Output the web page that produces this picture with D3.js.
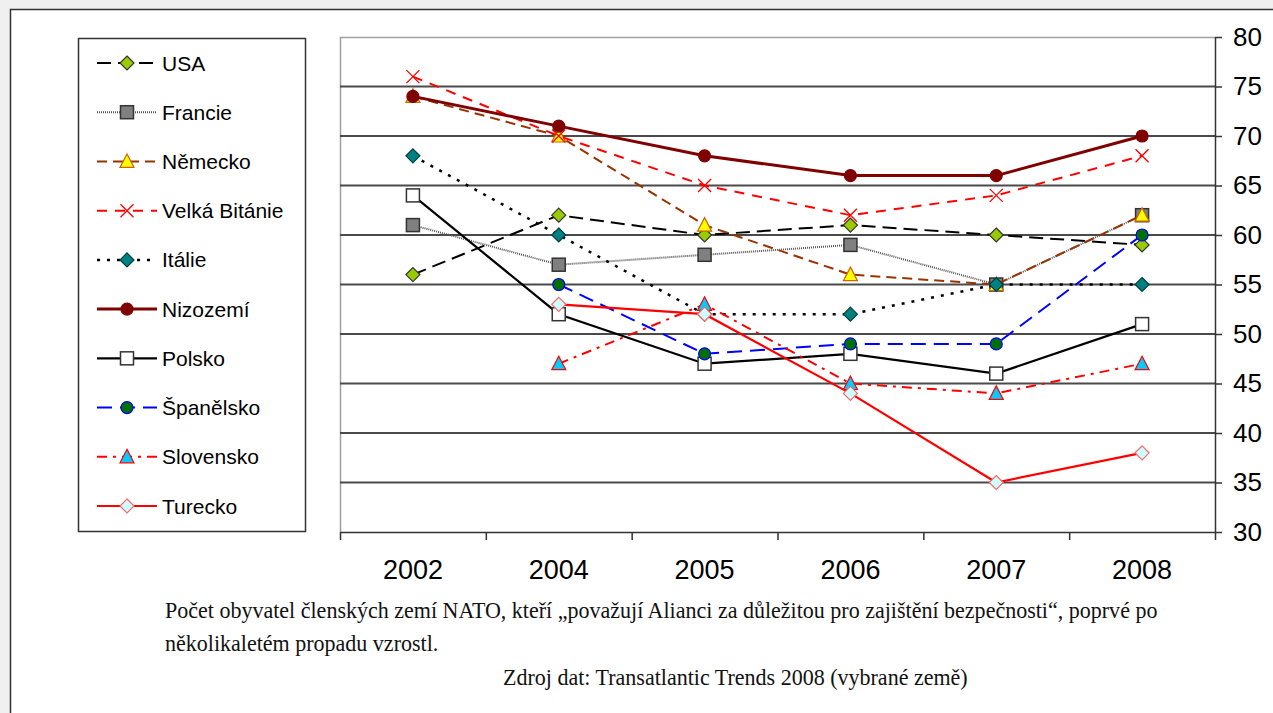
<!DOCTYPE html>
<html><head><meta charset="utf-8">
<script src="https://cdn.jsdelivr.net/npm/d3@7"></script>
<style>
html,body{margin:0;padding:0;background:#f0f0f0;}
svg{display:block;}
</style></head>
<body>
<svg id="chart" width="1273" height="713"></svg>
<script>
// ---- data ----
const years = ["2002","2004","2005","2006","2007","2008"];
const yTicks = [30,35,40,45,50,55,60,65,70,75,80];
const seriesNames = ["USA","Francie","Německo","Velká Bitánie","Itálie","Nizozemí","Polsko","Španělsko","Slovensko","Turecko"];
const usa        = [56,62,60,61,60,59];
const francie    = [61,57,58,59,55,62];
const nemecko    = [74,70,61,56,55,62];
const velkaBr    = [76,70,65,62,64,68];
const italie     = [68,60,52,52,55,55];
const nizozemi   = [74,71,68,66,66,70];
const polsko     = [64,52,47,48,46,51];
const spanelsko  = [null,55,48,49,49,60];
const slovensko  = [null,47,53,45,44,47];
const turecko    = [null,53,52,44,35,38];
const captionLine1 = "Počet obyvatel členských zemí NATO, kteří „považují Alianci za důležitou pro zajištění bezpečnosti“, poprvé po";
const captionLine2 = "několikaletém propadu vzrostl.";
const sourceLine = "Zdroj dat: Transatlantic Trends 2008 (vybrané země)";

// ---- styles ----
const styles = [
  {line:"#000", w:2, dash:"14 7", marker:"diamond", fill:"#99cc00", stroke:"#333"},
  {line:"#555", w:2, dash:"1 1", marker:"square", fill:"#808080", stroke:"#333"},
  {line:"#993300", w:2, dash:"10 6", marker:"triangle", fill:"#ffff00", stroke:"#cc6600"},
  {line:"#ff0000", w:2, dash:"10 8", marker:"x", fill:"none", stroke:"#ff0000"},
  {line:"#000", w:2.5, dash:"3 7", marker:"diamond", fill:"#008080", stroke:"#004040"},
  {line:"#800000", w:3, dash:null, marker:"circle", fill:"#800000", stroke:"#800000"},
  {line:"#000", w:2.2, dash:null, marker:"square", fill:"#ffffff", stroke:"#333"},
  {line:"#0000ff", w:2, dash:"15 8", marker:"circle", fill:"#007000", stroke:"#0000ff"},
  {line:"#ff0000", w:2, dash:"10 6 3 6", marker:"triangle", fill:"#00ccff", stroke:"#ff0000"},
  {line:"#ff0000", w:2.2, dash:null, marker:"diamond", fill:"#ccffff", stroke:"#ff6666"}
];
const allSeries = [usa,francie,nemecko,velkaBr,italie,nizozemi,polsko,spanelsko,slovensko,turecko];

const svg = d3.select("#chart");
// white page with frame
svg.append("rect").attr("x",10).attr("y",9).attr("width",1263).attr("height",704).attr("fill","#fff");
svg.append("path").attr("d","M10.5,713 V9.5 H1273").attr("fill","none").attr("stroke","#333").attr("stroke-width",1.5);

const L=340, R=1215, T=37, B=532;
const x = d3.scaleBand().domain(years).range([L,R]).padding(0);
const cx = d => x(d)+x.bandwidth()/2;
const y = d3.scaleLinear().domain([30,80]).range([B,T]);

// plot border (top & left light gray)
svg.append("path").attr("d",`M${L+0.5},${B} V${T+0.5} H${R}`).attr("fill","none").attr("stroke","#a0a0a0").attr("stroke-width",1.5);
// gridlines
svg.append("g").selectAll("line").data(yTicks.filter(v=>v>30&&v<80)).join("line")
  .attr("x1",L).attr("x2",R).attr("y1",d=>y(d)).attr("y2",d=>y(d))
  .attr("stroke","#4a4a4a").attr("stroke-width",1.8);

// y axis right
const yAxis = svg.append("g").attr("transform",`translate(${R},0)`)
  .call(d3.axisRight(y).tickValues(yTicks).tickSize(7).tickSizeOuter(0).tickPadding(11));
yAxis.select(".domain").attr("stroke","#333").attr("stroke-width",1.5);
yAxis.selectAll(".tick line").attr("stroke","#333").attr("stroke-width",1.5);
yAxis.selectAll(".tick text").attr("font-family","Liberation Sans, Arial, sans-serif").attr("font-size",26).attr("fill","#000");

// x axis bottom
const xAxis = svg.append("g").attr("transform",`translate(0,${B})`)
  .call(d3.axisBottom(x).tickSize(0).tickSizeOuter(0).tickPadding(28));
xAxis.select(".domain").attr("stroke","#333").attr("stroke-width",1.5);
xAxis.selectAll(".tick text").attr("font-family","Liberation Sans, Arial, sans-serif").attr("font-size",27).attr("fill","#000");
// boundary ticks between categories
const bounds = years.map(d=>x(d)).concat([R]);
xAxis.append("g").selectAll("line").data(bounds).join("line")
  .attr("x1",d=>d+0.5).attr("x2",d=>d+0.5).attr("y1",0).attr("y2",8).attr("stroke","#333").attr("stroke-width",1.5);

// marker drawing
function drawMarker(g, type, st){
  if(type==="diamond"){
    g.append("path").attr("d","M0,-7 L7,0 L0,7 L-7,0 Z").attr("fill",st.fill).attr("stroke",st.stroke).attr("stroke-width",1.2);
  } else if(type==="square"){
    g.append("rect").attr("x",-6.5).attr("y",-6.5).attr("width",13).attr("height",13).attr("fill",st.fill).attr("stroke",st.stroke).attr("stroke-width",1.5);
  } else if(type==="triangle"){
    g.append("path").attr("d","M0,-7.5 L7,6 L-7,6 Z").attr("fill",st.fill).attr("stroke",st.stroke).attr("stroke-width",1.2);
  } else if(type==="circle"){
    g.append("circle").attr("r",6).attr("fill",st.fill).attr("stroke",st.stroke).attr("stroke-width",1.2);
  } else if(type==="x"){
    g.append("path").attr("d","M-6.5,-6.5 L6.5,6.5 M-6.5,6.5 L6.5,-6.5").attr("stroke",st.stroke).attr("stroke-width",1.3).attr("fill","none");
  }
}

// series
const lineGen = d3.line().defined(d=>d.v!=null).x(d=>cx(d.year)).y(d=>y(d.v));
allSeries.forEach((vals,i)=>{
  const st = styles[i];
  const data = years.map((yr,j)=>({year:yr, v:vals[j]}));
  const g = svg.append("g");
  g.append("path").datum(data).attr("d",lineGen).attr("fill","none")
    .attr("stroke",st.line).attr("stroke-width",st.w).attr("stroke-dasharray",st.dash);
  data.filter(d=>d.v!=null).forEach(d=>{
    const m = g.append("g").attr("transform",`translate(${cx(d.year)},${y(d.v)})`);
    drawMarker(m, st.marker, st);
  });
});

// legend
svg.append("rect").attr("x",78.5).attr("y",38.5).attr("width",227).attr("height",493)
  .attr("fill","#fff").attr("stroke","#333").attr("stroke-width",1.5);
const legY = d3.scalePoint().domain(seriesNames).range([63,506]);
seriesNames.forEach((n,i)=>{
  const st = styles[i];
  const yy = legY(n);
  const g = svg.append("g");
  g.append("line").attr("x1",97).attr("x2",157).attr("y1",yy).attr("y2",yy)
    .attr("stroke",st.line).attr("stroke-width",st.w).attr("stroke-dasharray",st.dash);
  drawMarker(g.append("g").attr("transform",`translate(127,${yy})`), st.marker, st);
  g.append("text").attr("x",162).attr("y",yy).attr("dy","0.36em")
    .attr("font-family","Liberation Sans, Arial, sans-serif").attr("font-size",21).attr("fill","#000").text(n);
});

// captions
function fitText(t, w){
  const len = t.node().getComputedTextLength();
  const fs = parseFloat(t.attr("font-size"));
  t.attr("font-size", fs*w/len);
}
const capFont = "Liberation Serif, Times New Roman, serif";
const c1 = svg.append("text").attr("x",165).attr("y",618).attr("font-family",capFont).attr("font-size",19).attr("fill","#111").text(captionLine1);
fitText(c1, 993);
const fs1 = c1.attr("font-size");
svg.append("text").attr("x",165).attr("y",651).attr("font-family",capFont).attr("font-size",fs1).attr("fill","#111").text(captionLine2);
svg.append("text").attr("x",503).attr("y",685).attr("font-family",capFont).attr("font-size",fs1).attr("fill","#111").text(sourceLine);
</script>
</body></html>
